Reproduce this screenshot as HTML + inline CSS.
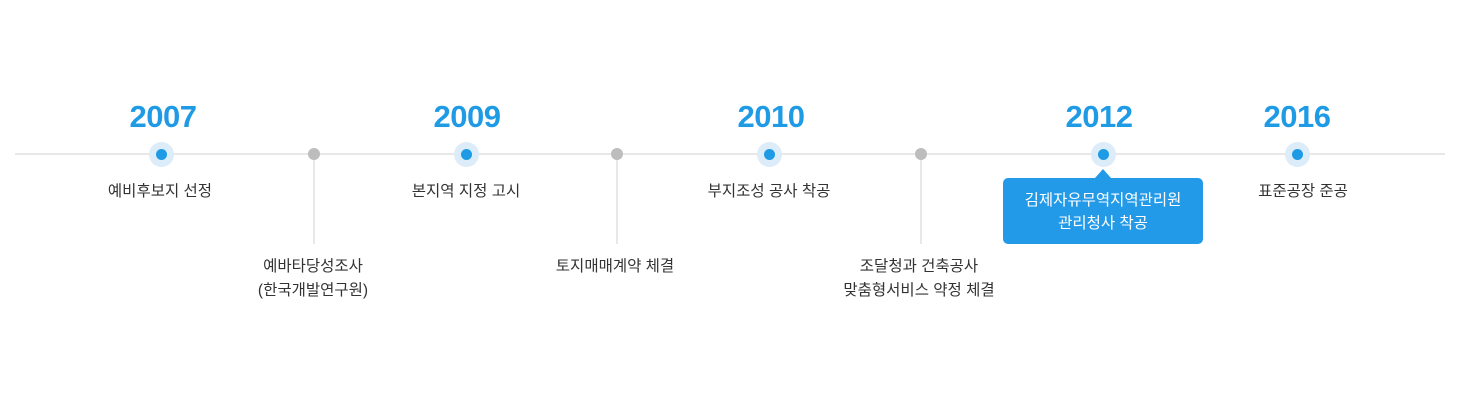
<!DOCTYPE html>
<html><head><meta charset="utf-8"><style>
body{margin:0;width:1460px;height:400px;background:#fff;position:relative;overflow:hidden;font-family:"Liberation Sans","Noto Sans CJK KR",sans-serif;}
.line{position:absolute;left:15px;top:153px;width:1430px;height:2px;background:#e8e8e8}
.yr{position:absolute;top:99px;width:120px;margin-left:-60px;text-align:center;font-size:31px;font-weight:bold;color:#1f9be6;letter-spacing:-0.5px}
.halo{position:absolute;top:142px;width:25px;height:25px;margin-left:-12.5px;border-radius:50%;background:#dcecf9}
.halo:after{content:"";position:absolute;left:7px;top:7px;width:11px;height:11px;border-radius:50%;background:#1f9be6}
.g{position:absolute;top:148px;width:12px;height:12px;margin-left:-6px;border-radius:50%;background:#bdbdbd}
.v{position:absolute;top:155px;width:2px;height:89px;margin-left:-1px;background:#e8e8e8}
.lb{position:absolute;width:260px;margin-left:-130px;text-align:center;font-size:15.5px;color:#333;line-height:24px}
.box{position:absolute;left:1003px;top:178px;width:200px;height:66px;background:#229ae8;border-radius:5px;color:#fff;font-size:15.5px;line-height:23px;text-align:center;box-sizing:border-box;padding-top:11px}
.box:before{content:"";position:absolute;left:92px;top:-9px;border-left:8px solid transparent;border-right:8px solid transparent;border-bottom:9px solid #229ae8}
</style></head><body>
<div class="line"></div>
<div class="yr" style="left:163px">2007</div>
<div class="yr" style="left:467px">2009</div>
<div class="yr" style="left:771px">2010</div>
<div class="yr" style="left:1099px">2012</div>
<div class="yr" style="left:1297px">2016</div>
<div class="halo" style="left:161px"></div>
<div class="halo" style="left:466px"></div>
<div class="halo" style="left:769px"></div>
<div class="halo" style="left:1103px"></div>
<div class="halo" style="left:1297px"></div>
<div class="v" style="left:314px"></div><div class="g" style="left:314px"></div>
<div class="v" style="left:617px"></div><div class="g" style="left:617px"></div>
<div class="v" style="left:921px"></div><div class="g" style="left:921px"></div>
<div class="lb" style="left:160px;top:180px">예비후보지 선정</div>
<div class="lb" style="left:466px;top:180px">본지역 지정 고시</div>
<div class="lb" style="left:769px;top:180px">부지조성 공사 착공</div>
<div class="lb" style="left:1303px;top:180px">표준공장 준공</div>
<div class="lb" style="left:313px;top:255px">예바타당성조사<br>(한국개발연구원)</div>
<div class="lb" style="left:615px;top:255px">토지매매계약 체결</div>
<div class="lb" style="left:919px;top:255px">조달청과 건축공사<br>맞춤형서비스 약정 체결</div>
<div class="box">김제자유무역지역관리원<br>관리청사 착공</div>
</body></html>
